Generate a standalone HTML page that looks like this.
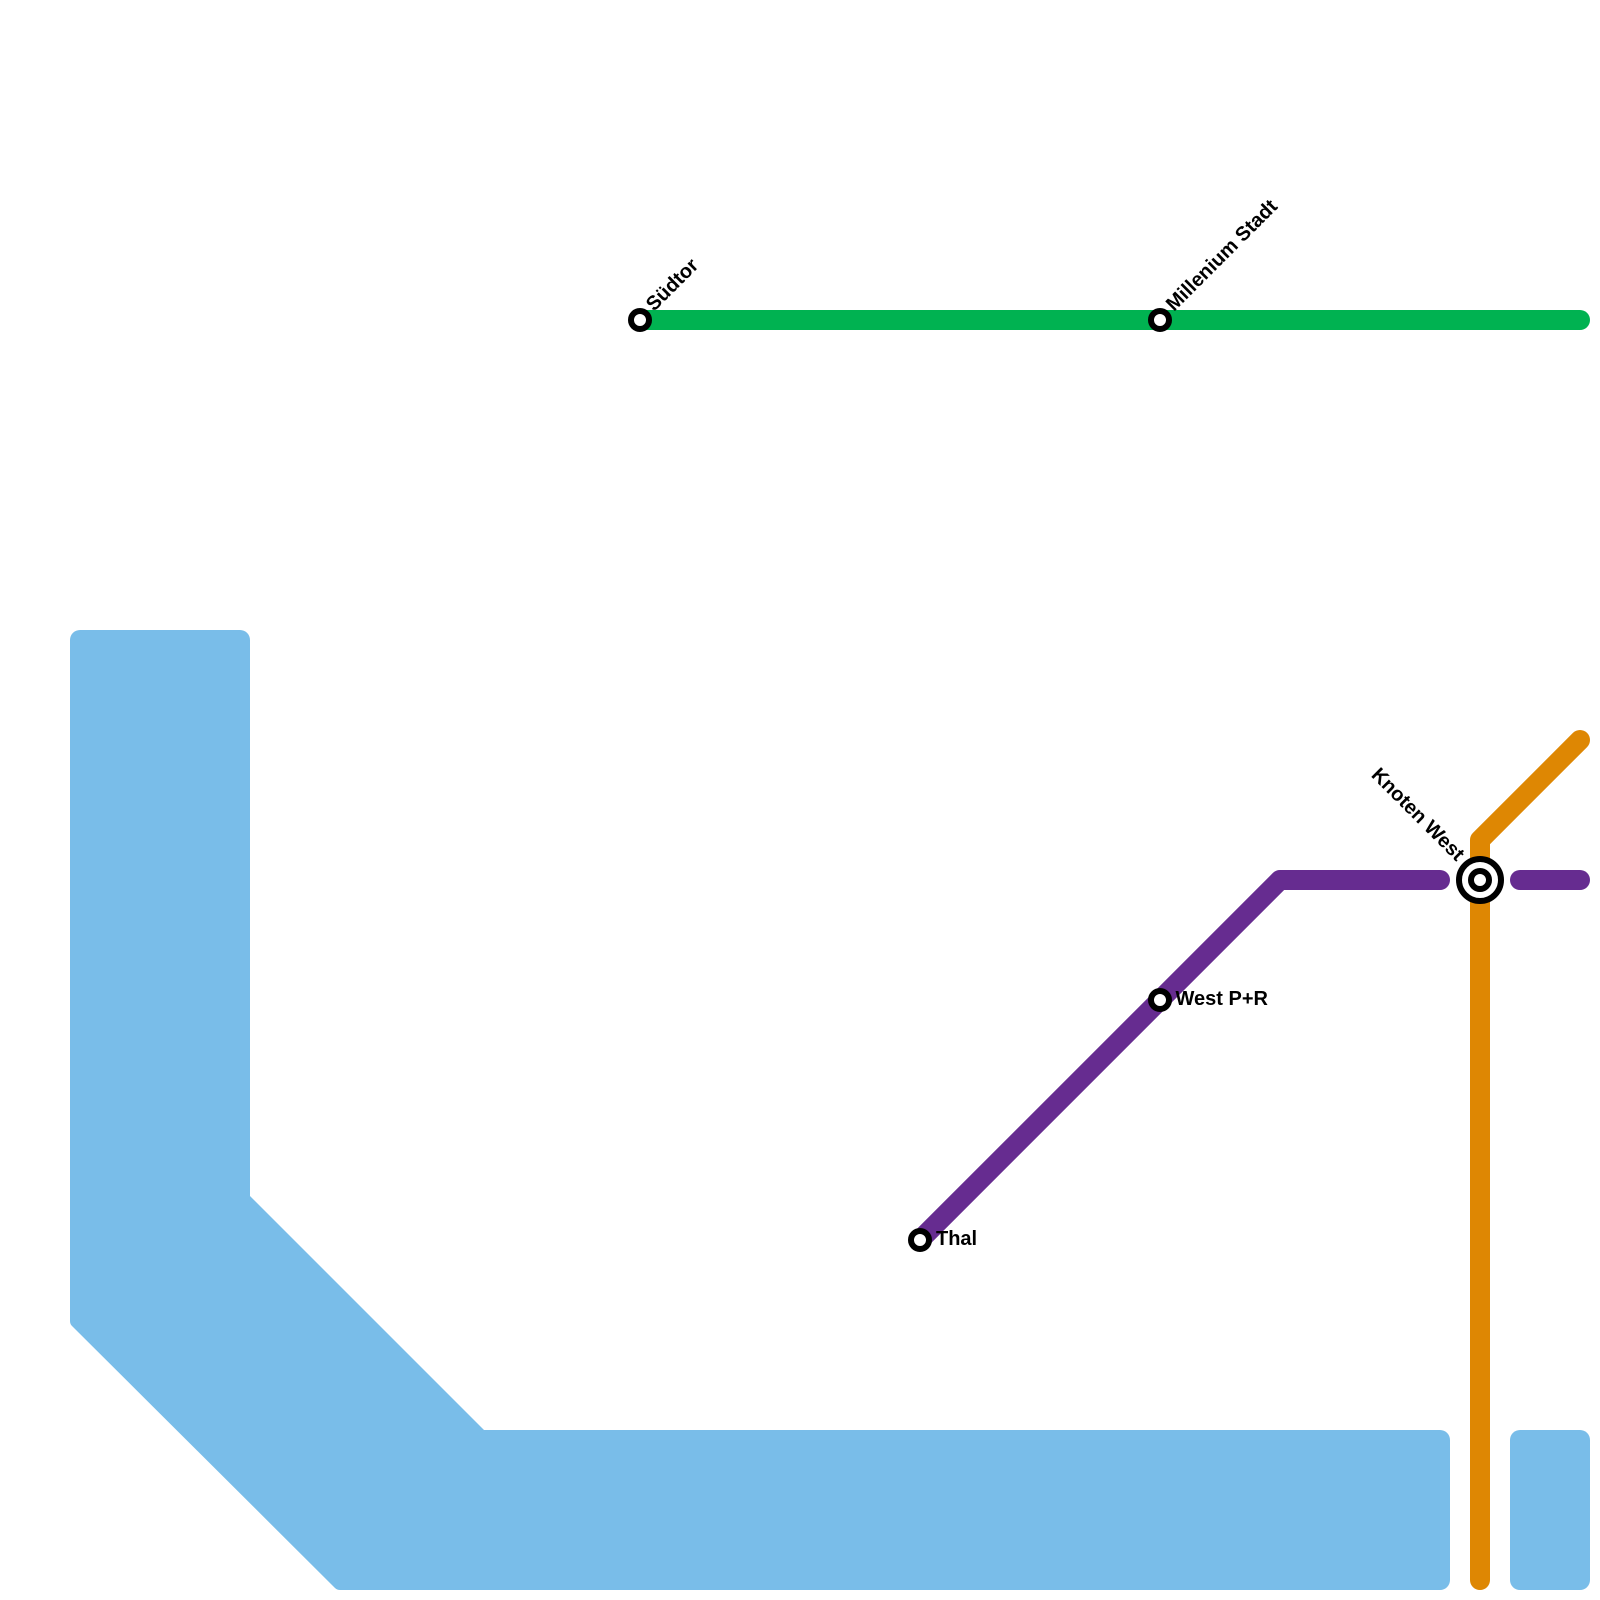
<!DOCTYPE html>
<html><head><meta charset="utf-8"><style>html,body{margin:0;padding:0;background:#fff}svg{display:block}text{font-family:"Liberation Sans",sans-serif;font-weight:700;font-size:20px;fill:#000}</style></head>
<body><svg xmlns="http://www.w3.org/2000/svg" width="1600" height="1600" viewBox="0 0 1600 1600">
<rect width="1600" height="1600" fill="#fff"/>
<path d="M70 640A10 10 0 0 1 80 630H240A10 10 0 0 1 250 640V1196L484 1430H1440A10 10 0 0 1 1450 1440V1580A10 10 0 0 1 1440 1590H340Q337 1590 335 1588L72 1326Q70 1324 70 1321Z" fill="#79BDE9"/>
<rect x="1510" y="1430" width="80" height="160" rx="10" fill="#79BDE9"/>
<path d="M640 320H1580" stroke="#00B251" stroke-width="20" stroke-linecap="round" fill="none"/>
<path d="M920 1240L1280 880H1440" stroke="#662C90" stroke-width="20" stroke-linecap="round" stroke-linejoin="round" fill="none"/>
<path d="M1520 880H1580" stroke="#662C90" stroke-width="20" stroke-linecap="round" fill="none"/>
<path d="M1580 740L1480 840V1580" stroke="#DE8703" stroke-width="20" stroke-linecap="round" stroke-linejoin="round" fill="none"/>
<g fill="#fff" stroke="#000" stroke-width="6">
<circle cx="640" cy="320" r="9"/>
<circle cx="1160" cy="320" r="9"/>
<circle cx="1160" cy="1000" r="9"/>
<circle cx="920" cy="1240" r="9"/>
<circle cx="1480" cy="880" r="21"/>
<circle cx="1480" cy="880" r="9"/>
</g>
<text transform="translate(654 312) rotate(-45)">Südtor</text>
<text transform="translate(1174 312) rotate(-45)">Millenium Stadt</text>
<text x="1175.500" y="1005">West P+R</text>
<text x="936" y="1245">Thal</text>
<text transform="translate(1456.500 862) rotate(45)" text-anchor="end">Knoten West</text>
</svg></body></html>
